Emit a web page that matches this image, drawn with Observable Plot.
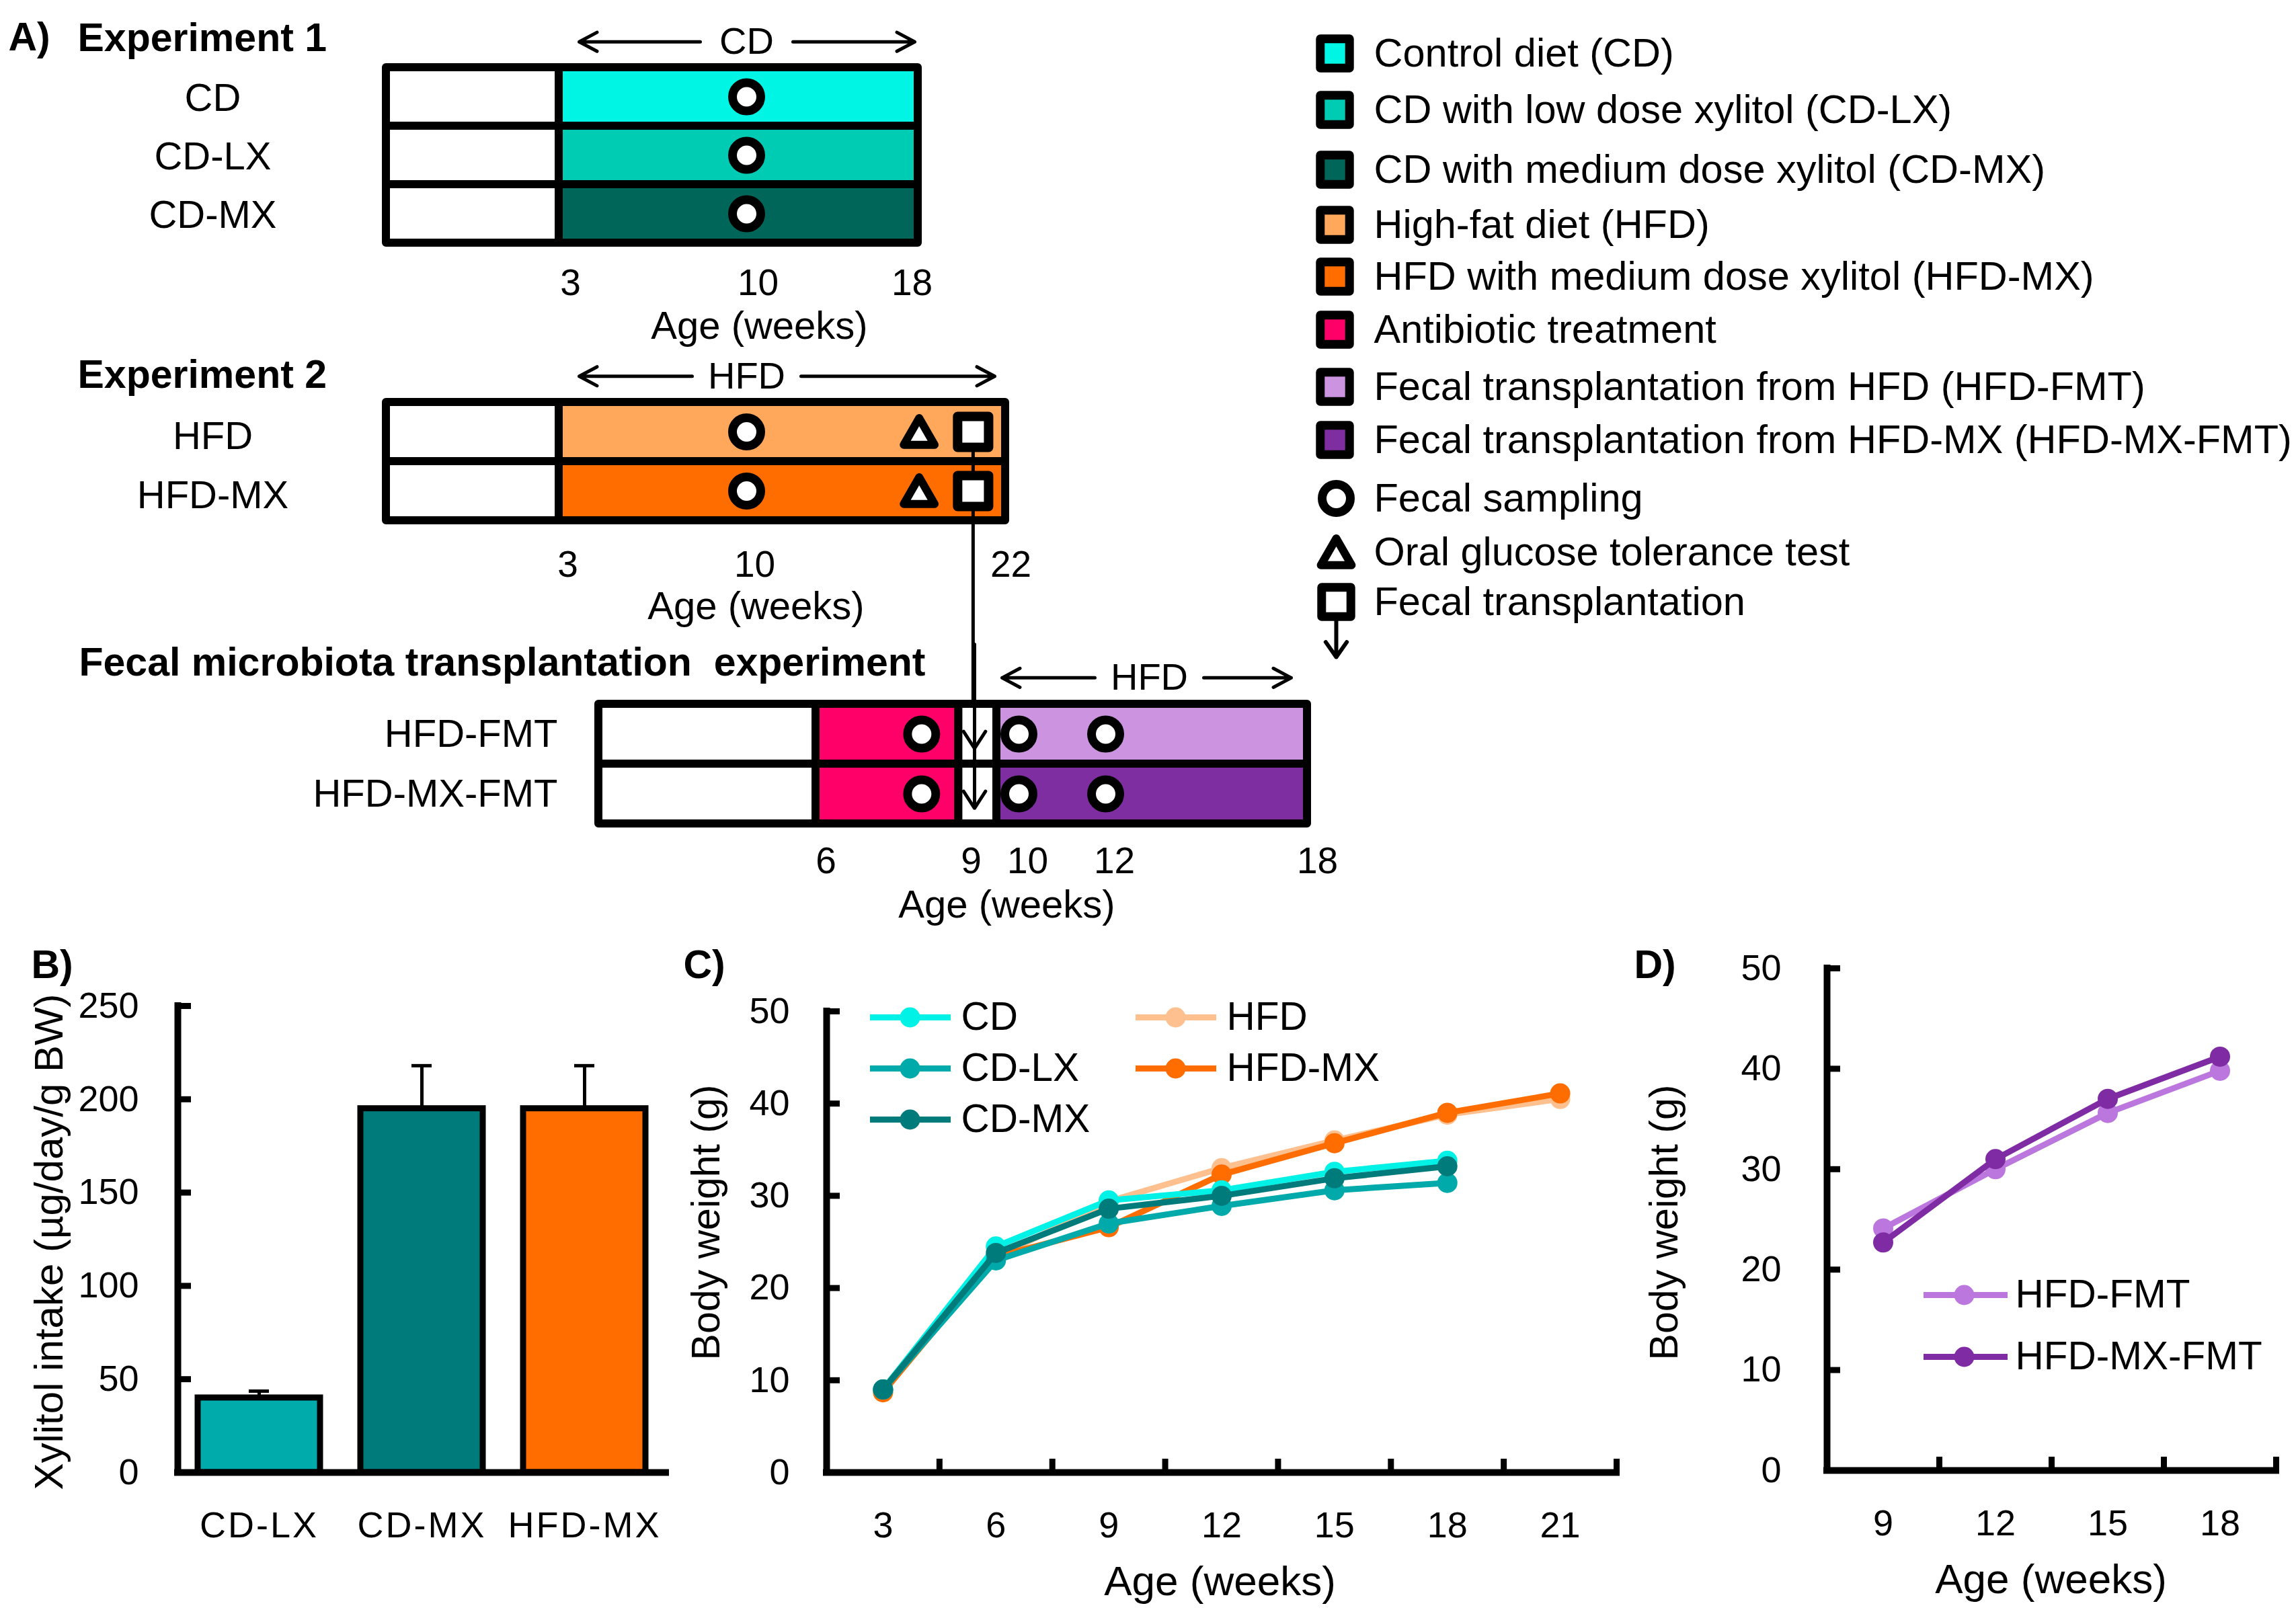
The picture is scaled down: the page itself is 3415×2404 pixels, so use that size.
<!DOCTYPE html>
<html>
<head>
<meta charset="utf-8">
<script src="https://cdn.jsdelivr.net/npm/d3@7"></script>
<script src="https://cdn.jsdelivr.net/npm/@observablehq/plot@0.6"></script>
<style>
  html, body { margin: 0; padding: 0; background: #ffffff; }
  #page { position: relative; width: 3415px; height: 2404px; background: #ffffff; overflow: hidden; }
  #page svg { position: absolute; left: 0; top: 0; max-width: none !important; background: transparent !important; }
</style>
</head>
<body>
<div id="page"></div>
<script>
const W = 3415, H = 2404;
const FONT = "'Liberation Sans', Arial, Helvetica, sans-serif";
const SVGSTYLE = {background: "transparent", fontFamily: FONT, overflow: "visible"};

// ---------------- Panel A: Experiment 1 ----------------
const exp1Groups = ["CD", "CD-LX", "CD-MX"];
const exp1Colors = ["#00F5E4", "#00CCB4", "#00665A"];
const exp1Periods = [{from: 0, to: 3, phase: "pre"}, {from: 3, to: 18, phase: "diet"}];
const exp1Sampling = [10];
const exp1Ticks = [3, 10, 18];
const exp1Header = {label: "CD", from: 3, to: 18, at: 10};

// ---------------- Panel A: Experiment 2 ----------------
const exp2Groups = ["HFD", "HFD-MX"];
const exp2Colors = ["#FFA75A", "#FF6D00"];
const exp2Periods = [{from: 0, to: 3, phase: "pre"}, {from: 3, to: 22, phase: "diet"}];
const exp2Sampling = [10];
const exp2OGTT = [18];
const exp2Transplant = [20.5];
const exp2Ticks = [3, 10, 22];
const exp2Header = {label: "HFD", from: 3, to: 22, at: 10};

// ---------------- Panel A: FMT experiment ----------------
const fmtGroups = ["HFD-FMT", "HFD-MX-FMT"];
const fmtColors = ["#CC94E0", "#7F2EA2"];
const antibioticColor = "#FF0068";
const fmtPeriods = [
  {from: 3, to: 6, phase: "pre"},
  {from: 6, to: 8.7, phase: "antibiotic"},
  {from: 8.7, to: 9.5, phase: "transplant"},
  {from: 9.5, to: 18, phase: "diet"}
];
const fmtSampling = [8, 10, 12];
const fmtTransplantWeek = [9];
const fmtTicks = [6, 9, 10, 12, 18];
const fmtHeader = {label: "HFD", from: 9.5, to: 18, at: 13.3};

// ---------------- Panel A legend ----------------
const legendALabels = [
  "Control diet (CD)",
  "CD with low dose xylitol (CD-LX)",
  "CD with medium dose xylitol (CD-MX)",
  "High-fat diet (HFD)",
  "HFD with medium dose xylitol (HFD-MX)",
  "Antibiotic treatment",
  "Fecal transplantation from HFD (HFD-FMT)",
  "Fecal transplantation from HFD-MX (HFD-MX-FMT)",
  "Fecal sampling",
  "Oral glucose tolerance test",
  "Fecal transplantation"
];
const legendASwatches = [exp1Colors[0], exp1Colors[1], exp1Colors[2], exp2Colors[0], exp2Colors[1], antibioticColor, fmtColors[0], fmtColors[1]];

// ---------------- Panel B ----------------
const xylitolGroups = ["CD-LX", "CD-MX", "HFD-MX"];
const xylitolMean = [40, 195, 195];
const xylitolSE = [3.6, 23, 23];
const xylitolColors = ["#00ABAB", "#007B7B", "#FF6D00"];
const xylitolTicks = [0, 50, 100, 150, 200, 250];

// ---------------- Panel C ----------------
const ageWeeks = [3, 6, 9, 12, 15, 18, 21];
const bwSeries = ["CD", "CD-LX", "CD-MX", "HFD", "HFD-MX"];
const bwColors = ["#00F2E6", "#00AAAA", "#007B7B", "#FFC090", "#FF6D00"];
const bwCD    = [9.0, 24.5, 29.5, 30.6, 32.6, 33.8];
const bwCDLX  = [9.0, 23.0, 27.0, 28.9, 30.6, 31.4];
const bwCDMX  = [9.0, 23.8, 28.6, 30.0, 31.9, 33.2];
const bwHFD   = [8.8, 23.3, 29.4, 33.0, 36.0, 38.8, 40.5];
const bwHFDMX = [8.7, 23.4, 26.6, 32.3, 35.7, 39.0, 41.1];
const bwTicks = [0, 10, 20, 30, 40, 50];

// ---------------- Panel D ----------------
const fmtAgeWeeks = [9, 12, 15, 18];
const bwFmtSeries = ["HFD-FMT", "HFD-MX-FMT"];
const bwFmtColors = ["#BB77DD", "#7F2BA3"];
const bwHFDFMT   = [24.1, 30.0, 35.6, 39.8];
const bwHFDMXFMT = [22.7, 31.0, 37.0, 41.2];

// ---------------- layout (pixels) ----------------
const layout = {
  exp1: {xDomain: [0, 3, 10, 18], xRange: [574, 831, 1110, 1365], yRange: [100, 361], tickDy: 60, tickDx: [17, 17, -9], labelDy: 2, headerInset: [30, 5]},
  exp2: {xDomain: [0, 3, 10, 22], xRange: [574, 831, 1110, 1495], yRange: [598, 774], tickDy: 66, tickDx: [13, 12, 8], labelDy: 7, headerInset: [30, 16]},
  fmt:  {xDomain: [3, 6, 9, 10, 12, 18], xRange: [890, 1213, 1449, 1515, 1644, 1944], yRange: [1047, 1225], tickDy: 56, tickDx: [15, -5, 13, 13, 15], labelDy: 0, headerInset: [8, 24]}
};
const legendARows = [79, 163, 252, 334, 411, 490, 575, 654, 741, 821, 895];

function diagram(cfg) {
  const {groups, colors, periods, sampling = [], ogtt = [], transplant = [], ticks, header,
         labelX, labelAnchor, labelDy, xDomain, xRange, yRange, tickDy, tickDx, headerInset, overlay = [], top = []} = cfg;
  const n = groups.length;
  const phaseFill = (i, phase) => phase === "diet" ? colors[i] : phase === "antibiotic" ? antibioticColor : "white";
  const segs = groups.flatMap((g, i) => periods.map(p => ({row: i, from: p.from, to: p.to, fill: phaseFill(i, p.phase)})));
  const at = weeks => groups.flatMap((g, i) => weeks.map(w => ({row: i, week: w})));
  const hdr = [{x1: header.at, x2: header.from, inset: headerInset[0]}, {x1: header.at, x2: header.to, inset: headerInset[1]}];
  const headerRow = -0.44;
  return Plot.plot({
    width: W, height: H, margin: 0, style: SVGSTYLE,
    x: {type: "linear", domain: xDomain, range: xRange, axis: null},
    y: {type: "linear", domain: [0, n], range: yRange, axis: null},
    color: {type: "identity"},
    marks: [
      Plot.rect(segs, {x1: "from", x2: "to", y1: "row", y2: d => d.row + 1, fill: "fill",
        stroke: "black", strokeWidth: 12, strokeLinejoin: "round"}),
      ...overlay,
      Plot.dot(at(sampling), {x: "week", y: d => d.row + 0.5, r: 21, fill: "white", stroke: "black", strokeWidth: 13}),
      Plot.dot(at(ogtt), {x: "week", y: d => d.row + 0.5, symbol: "triangle", r: 17, dy: 6,
        fill: "white", stroke: "black", strokeWidth: 12, strokeLinejoin: "round"}),
      Plot.dot(at(transplant), {x: "week", y: d => d.row + 0.5, symbol: "square", r: 26,
        fill: "white", stroke: "black", strokeWidth: 14, strokeLinejoin: "round"}),
      ...top,
      Plot.text(groups, {y: (d, i) => i + 0.5, frameAnchor: "left", dx: labelX, dy: labelDy, textAnchor: labelAnchor,
        text: d => d, fontSize: 58, fill: "black"}),
      ...ticks.map((t, k) => Plot.text([t], {x: d => d, y: () => n, dy: tickDy, dx: tickDx[k], text: d => String(d), fontSize: 55, fill: "black"})),
      ...hdr.map(h => Plot.arrow([h], {x1: "x1", x2: "x2", y1: () => headerRow, y2: () => headerRow,
        insetStart: 45 + 12 * header.label.length, insetEnd: h.inset, strokeWidth: 5, headAngle: 56, headLength: 9, stroke: "black"})),
      Plot.text([header], {x: "at", y: () => headerRow, text: "label", fontSize: 56, fill: "black"})
    ]
  });
}

const page = document.getElementById("page");

// Experiment 1
page.appendChild(diagram({
  groups: exp1Groups, colors: exp1Colors, periods: exp1Periods, sampling: exp1Sampling,
  ticks: exp1Ticks, header: exp1Header, labelX: 316, labelAnchor: "middle", ...layout.exp1
}));

// Experiment 2 (with connector to the FMT experiment)
const exp2Y = d3.scaleLinear([0, exp2Groups.length], layout.exp2.yRange);
const connectorEnd = exp2Y.invert(layout.fmt.yRange[0]);
page.appendChild(diagram({
  groups: exp2Groups, colors: exp2Colors, periods: exp2Periods, sampling: exp2Sampling,
  ogtt: exp2OGTT, transplant: exp2Transplant, ticks: exp2Ticks, header: exp2Header,
  labelX: 316, labelAnchor: "middle", ...layout.exp2,
  overlay: [Plot.ruleX(exp2Transplant, {x: d => d, y1: () => 0.5, y2: () => connectorEnd, strokeWidth: 5, stroke: "black"})]
}));

// FMT experiment
page.appendChild(diagram({
  groups: fmtGroups, colors: fmtColors, periods: fmtPeriods, sampling: fmtSampling,
  ticks: fmtTicks, header: fmtHeader, labelX: 829, labelAnchor: "end", ...layout.fmt,
  top: [Plot.arrow(fmtGroups, {x1: () => fmtTransplantWeek[0], x2: () => fmtTransplantWeek[0],
    y1: (d, i) => i - 1, y2: (d, i) => i + 0.74, strokeWidth: 5, headAngle: 66, headLength: 9, stroke: "black"})]
}));

// ---------------- Panel B ----------------
const xylitolRows = xylitolGroups.map((g, i) => ({group: g, i, mean: xylitolMean[i], se: xylitolSE[i], color: xylitolColors[i]}));
{
  const left = 264, right = 990, top = 1496, bottom = 2190;
  const svgB = Plot.plot({
    width: W, height: H, style: SVGSTYLE,
    marginLeft: left, marginRight: W - right, marginTop: top, marginBottom: H - bottom,
    x: {type: "linear", domain: [0, xylitolGroups.length], axis: null},
    y: {type: "linear", domain: [0, 250], axis: null},
    color: {type: "identity"},
    marks: [
      Plot.ruleX(xylitolRows, {x: d => d.i + 0.5, y1: "mean", y2: d => d.mean + d.se, strokeWidth: 5, stroke: "black"}),
      Plot.ruleY(xylitolRows, {y: d => d.mean + d.se, x1: d => d.i + 0.5 - 0.062, x2: d => d.i + 0.5 + 0.062, strokeWidth: 5, stroke: "black"}),
      Plot.rect(xylitolRows, {x1: "i", x2: d => d.i + 1, y1: () => 0, y2: "mean", insetLeft: 30, insetRight: 30,
        fill: "color", stroke: "black", strokeWidth: 9}),
      Plot.tickY(xylitolTicks, {y: d => d, insetRight: (right - left) - 20, strokeWidth: 9, stroke: "black"}),
      Plot.ruleX([0], {strokeWidth: 10, stroke: "black", strokeLinecap: "square"}),
      Plot.ruleY([0], {strokeWidth: 10, stroke: "black", strokeLinecap: "square"}),
      Plot.axisY(xylitolTicks, {tickSize: 0, tickPadding: 58, fontSize: 54, label: null, fill: "black"}),
      Plot.axisX(xylitolGroups.map((g, i) => i + 0.5), {tickSize: 0, tickPadding: 58, fontSize: 54, label: null,
        tickFormat: v => xylitolGroups[Math.floor(v)], fill: "black"})
    ]
  });
  svgB.querySelectorAll('[aria-label="x-axis tick label"]').forEach(g => { g.style.letterSpacing = "3px"; });
  page.appendChild(svgB);
}

// ---------------- Panel C ----------------
const bwValuesC = [bwCD, bwCDLX, bwCDMX, bwHFD, bwHFDMX];
const bwRowsC = bwSeries.flatMap((s, k) => bwValuesC[k].map((v, j) => ({series: s, week: ageWeeks[j], bw: v})));
const drawOrderC = ["HFD", "HFD-MX", "CD", "CD-LX", "CD-MX"];
{
  const left = 1229, right = 2404, top = 1504, bottom = 2190;
  const boundaries = ageWeeks.map(w => w + 1.5);
  page.appendChild(Plot.plot({
    width: W, height: H, style: SVGSTYLE,
    marginLeft: left, marginRight: W - right, marginTop: top, marginBottom: H - bottom,
    x: {type: "linear", domain: [1.5, 22.5], axis: null},
    y: {type: "linear", domain: [0, 50], axis: null},
    color: {domain: bwSeries, range: bwColors},
    marks: [
      Plot.tickY(bwTicks, {y: d => d, insetRight: (right - left) - 20, strokeWidth: 9, stroke: "black"}),
      Plot.tickX(boundaries, {x: d => d, insetTop: (bottom - top) - 20, strokeWidth: 9, stroke: "black"}),
      Plot.ruleX([1.5], {strokeWidth: 10, stroke: "black", strokeLinecap: "square"}),
      Plot.ruleY([0], {strokeWidth: 10, stroke: "black", strokeLinecap: "square"}),
      Plot.axisY(bwTicks, {tickSize: 0, tickPadding: 55, fontSize: 54, label: null, fill: "black"}),
      Plot.axisX(ageWeeks, {tickSize: 0, tickPadding: 58, fontSize: 54, label: null, fill: "black"}),
      ...drawOrderC.flatMap(s => [
        Plot.line(bwRowsC, {filter: d => d.series === s, x: "week", y: "bw", stroke: "series", strokeWidth: 9, strokeLinejoin: "round"}),
        Plot.dot(bwRowsC, {filter: d => d.series === s, x: "week", y: "bw", fill: "series", r: 15})
      ])
    ]
  }));
}

// ---------------- Panel D ----------------
const bwValuesD = [bwHFDFMT, bwHFDMXFMT];
const bwRowsD = bwFmtSeries.flatMap((s, k) => bwValuesD[k].map((v, j) => ({series: s, week: fmtAgeWeeks[j], bw: v})));
{
  const left = 2717, right = 3385, top = 1440, bottom = 2187;
  const boundaries = fmtAgeWeeks.map(w => w + 1.5);
  page.appendChild(Plot.plot({
    width: W, height: H, style: SVGSTYLE,
    marginLeft: left, marginRight: W - right, marginTop: top, marginBottom: H - bottom,
    x: {type: "linear", domain: [7.5, 19.5], axis: null},
    y: {type: "linear", domain: [0, 50], axis: null},
    color: {domain: bwFmtSeries, range: bwFmtColors},
    marks: [
      Plot.tickY(bwTicks, {y: d => d, insetRight: (right - left) - 20, strokeWidth: 9, stroke: "black"}),
      Plot.tickX(boundaries, {x: d => d, insetTop: (bottom - top) - 20, strokeWidth: 9, stroke: "black"}),
      Plot.ruleX([7.5], {strokeWidth: 10, stroke: "black", strokeLinecap: "square"}),
      Plot.ruleY([0], {strokeWidth: 10, stroke: "black", strokeLinecap: "square"}),
      Plot.axisY(bwTicks, {tickSize: 0, tickPadding: 68, fontSize: 54, label: null, fill: "black"}),
      Plot.axisX(fmtAgeWeeks, {tickSize: 0, tickPadding: 58, fontSize: 54, label: null, fill: "black"}),
      ...bwFmtSeries.flatMap(s => [
        Plot.line(bwRowsD, {filter: d => d.series === s, x: "week", y: "bw", stroke: "series", strokeWidth: 9, strokeLinejoin: "round"}),
        Plot.dot(bwRowsD, {filter: d => d.series === s, x: "week", y: "bw", fill: "series", r: 15})
      ])
    ]
  }));
}

// ---------------- Legends and titles (pixel layout) ----------------
const legA = legendALabels.map((label, i) => ({label, y: legendARows[i], color: legendASwatches[i]}));
const legASw = legA.slice(0, legendASwatches.length);
const legRing = [legA[8]], legTri = [legA[9]], legSq = [legA[10]];

const legC = bwSeries.map((s, i) => ({label: s, color: bwColors[i], x0: 1294 + (i < 3 ? 0 : 395), y: 1513 + (i < 3 ? i : i - 3) * 76}));
const legD = bwFmtSeries.map((s, i) => ({label: s, color: bwFmtColors[i], x0: 2861, y: 1926 + i * 92}));

const boldTitles = [
  {text: "A)", x: 12, y: 56},
  {text: "Experiment 1", x: 115, y: 57},
  {text: "Experiment 2", x: 115, y: 558},
  {text: "Fecal microbiota transplantation  experiment", x: 117, y: 986},
  {text: "B)", x: 46, y: 1436},
  {text: "C)", x: 1016, y: 1436},
  {text: "D)", x: 2430, y: 1436}
];
const ageTitles = [
  {text: "Age (weeks)", x: 1129, y: 485, size: 58},
  {text: "Age (weeks)", x: 1124, y: 902, size: 58},
  {text: "Age (weeks)", x: 1497, y: 1346, size: 58},
  {text: "Age (weeks)", x: 1814, y: 2353, size: 62},
  {text: "Age (weeks)", x: 3050, y: 2350, size: 62}
];
const yTitles = [
  {text: "Xylitol intake (µg/day/g BW)", x: 73, y: 1847, size: 60},
  {text: "Body weight (g)", x: 1051, y: 1818, size: 59},
  {text: "Body weight (g)", x: 2476, y: 1818, size: 59}
];

page.appendChild(Plot.plot({
  width: W, height: H, margin: 0, style: SVGSTYLE,
  x: {type: "identity", axis: null},
  y: {type: "identity", axis: null},
  color: {type: "identity"},
  marks: [
    // Panel A legend
    Plot.dot(legASw, {x: () => 1985, y: "y", symbol: "square", r: 24.5, fill: "color", stroke: "black", strokeWidth: 13, strokeLinejoin: "round"}),
    Plot.dot(legRing, {x: () => 1987, y: "y", r: 21, fill: "white", stroke: "black", strokeWidth: 13}),
    Plot.dot(legTri, {x: () => 1987, y: "y", symbol: "triangle", r: 17, dy: 6, fill: "white", stroke: "black", strokeWidth: 12, strokeLinejoin: "round"}),
    Plot.arrow(legSq, {x1: () => 1987, x2: () => 1987, y1: "y", y2: d => d.y + 82, strokeWidth: 6, headAngle: 70, headLength: 7, stroke: "black"}),
    Plot.dot(legSq, {x: () => 1987, y: "y", symbol: "square", r: 24.5, fill: "white", stroke: "black", strokeWidth: 13, strokeLinejoin: "round"}),
    Plot.text(legA, {x: () => 2043, y: "y", text: "label", textAnchor: "start", fontSize: 59.5, fill: "black"}),
    // Panel C legend
    Plot.ruleY(legC, {y: "y", x1: "x0", x2: d => d.x0 + 120, stroke: "color", strokeWidth: 9}),
    Plot.dot(legC, {x: d => d.x0 + 59, y: "y", r: 15, fill: "color"}),
    Plot.text(legC, {x: d => d.x0 + 135, y: "y", text: "label", textAnchor: "start", fontSize: 58.5, fill: "black"}),
    // Panel D legend
    Plot.ruleY(legD, {y: "y", x1: "x0", x2: d => d.x0 + 125, stroke: "color", strokeWidth: 9}),
    Plot.dot(legD, {x: d => d.x0 + 60, y: "y", r: 15, fill: "color"}),
    Plot.text(legD, {x: d => d.x0 + 136, y: "y", text: "label", textAnchor: "start", fontSize: 58.5, fill: "black"}),
    // titles
    Plot.text(boldTitles, {x: "x", y: "y", text: "text", textAnchor: "start", fontSize: 59, fontWeight: "bold", fill: "black"}),
    Plot.text(ageTitles, {x: "x", y: "y", text: "text", fontSize: "size", fill: "black"}),
    Plot.text(yTitles, {x: "x", y: "y", text: "text", fontSize: "size", rotate: -90, fill: "black"})
  ]
}));
</script>
</body>
</html>
